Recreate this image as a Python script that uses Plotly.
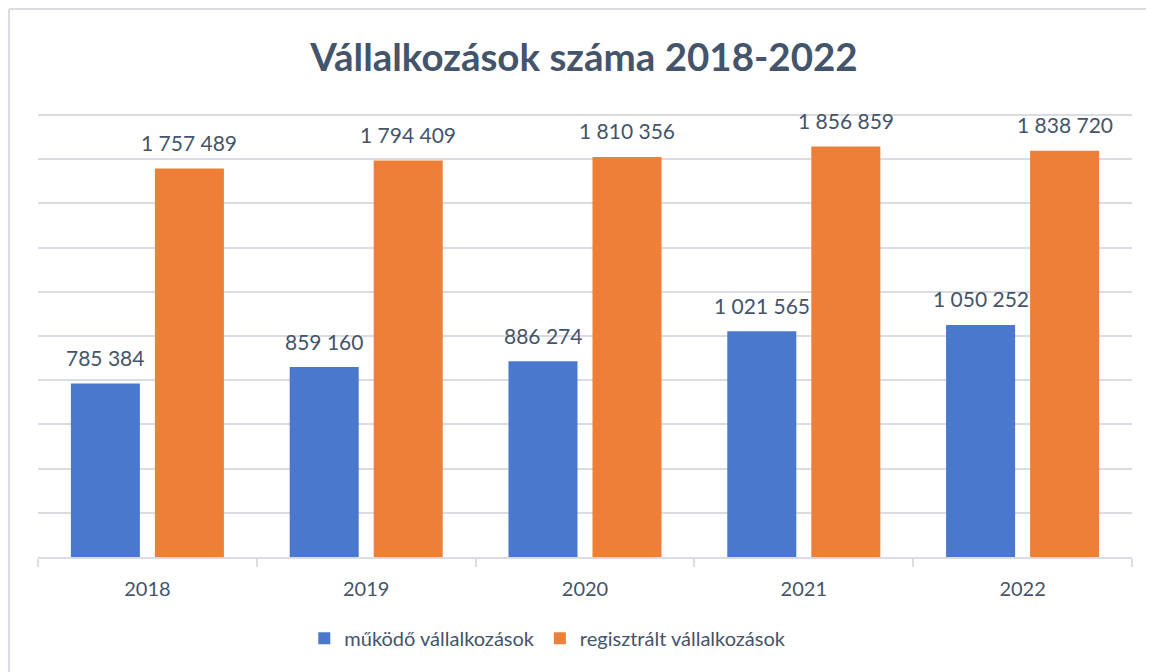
import plotly.graph_objects as go

years = ["2018", "2019", "2020", "2021", "2022"]
mukodo = [785384, 859160, 886274, 1021565, 1050252]
regisztralt = [1757489, 1794409, 1810356, 1856859, 1838720]

TEXT = "#44546a"
GRID = "#d9dde3"
FONT = "Lato"


def fmt(v):
    return f"{v:,}".replace(",", " ")


fig = go.Figure()
fig.add_trace(go.Bar(
    x=years, y=mukodo, name="működő vállalkozások",
    marker=dict(color="#4a78cc", line=dict(width=0)),
))
fig.add_trace(go.Bar(
    x=years, y=regisztralt, name="regisztrált vállalkozások",
    marker=dict(color="#ee7f38", line=dict(width=0)),
))

# data labels above the bars (x given as category index)
for i, (a, b) in enumerate(zip(mukodo, regisztralt)):
    for val, shift in ((a, -42), (b, 42)):
        fig.add_annotation(
            x=i, y=val, xref="x", yref="y", text=fmt(val),
            showarrow=False, xshift=shift, yshift=26,
            font=dict(family=FONT, size=21, color=TEXT),
        )

# chart frame (left and top border)
fig.add_shape(type="line", xref="paper", yref="paper",
              x0=-0.0265, x1=-0.0265, y0=-0.27, y1=1.2342,
              line=dict(color=GRID, width=2))
fig.add_shape(type="line", xref="paper", yref="paper",
              x0=-0.0265, x1=1.03, y0=1.2342, y1=1.2342,
              line=dict(color=GRID, width=2))

fig.update_layout(
    width=1146, height=664,
    margin=dict(l=30, r=22, t=105, b=115, autoexpand=False),
    paper_bgcolor="white", plot_bgcolor="white",
    title=dict(text="<b>Vállalkozások száma 2018-2022</b>",
               x=0.5026, xanchor="center", y=0.926, yanchor="middle",
               font=dict(family=FONT, size=38.5, color=TEXT)),
    barmode="group", bargap=0.232, bargroupgap=0.1786,
    font=dict(family=FONT, size=20, color=TEXT),
    legend=dict(orientation="h", x=0.466, xanchor="center", y=-0.183, yanchor="middle",
                font=dict(family=FONT, size=20, color=TEXT), itemwidth=30,
                traceorder="normal"),
    showlegend=True,
)
fig.update_xaxes(
    type="category", range=[-0.5, 4.5],
    showline=True, linecolor=GRID, linewidth=2,
    ticks="outside", tickson="boundaries", ticklen=8, tickcolor=GRID, tickwidth=2,
    tickfont=dict(family=FONT, size=20, color=TEXT), ticklabelstandoff=13,
    showgrid=False,
)
fig.update_yaxes(
    range=[0, 2009000], tick0=0, dtick=200000, showticklabels=False,
    showgrid=True, gridcolor=GRID, gridwidth=2, zeroline=False, showline=False,
)

fig.write_html("out.html")
